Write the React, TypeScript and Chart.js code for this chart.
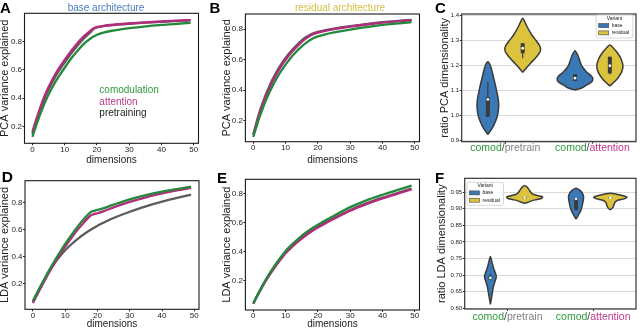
import React, { useEffect, useRef } from 'react';
import { Chart, registerables } from 'chart.js';

Chart.register(...registerables);

const FONT = '"Liberation Sans", Arial, Helvetica, sans-serif';
Chart.defaults.font.family = FONT;
Chart.defaults.color = '#222222';

// ---------------- line panels (A, B, D, E) ----------------
const dims = [0, 1, 2, 3, 4, 5, 6, 7, 8, 9, 10, 12, 14, 16, 18, 19, 20, 22, 25, 30, 35, 40, 45, 49];
const xTickValues = [0, 10, 20, 30, 40, 50];
const lineYTicks = [0.2, 0.4, 0.6, 0.8];
const seriesNames = ['comodulation', 'attention', 'pretraining'];
const seriesColors = ['#24893a', '#b42a7c', '#5c5c5c'];
const seriesTextColors = ['#2f9b40', '#bd3c8a', '#222222'];
const seriesOrder = [0, 1, 2];

// A: PCA, base architecture
const pcaBaseComod = [0.125, 0.195, 0.26, 0.32, 0.375, 0.425, 0.47, 0.51, 0.547, 0.582, 0.615, 0.68, 0.735, 0.785, 0.822, 0.836, 0.848, 0.864, 0.878, 0.895, 0.907, 0.918, 0.926, 0.932];
const pcaBaseAttention = [0.16, 0.235, 0.305, 0.37, 0.428, 0.478, 0.523, 0.565, 0.603, 0.638, 0.67, 0.733, 0.79, 0.838, 0.878, 0.895, 0.903, 0.911, 0.919, 0.928, 0.936, 0.942, 0.948, 0.952];
const pcaBasePretrain = [0.145, 0.22, 0.29, 0.353, 0.41, 0.46, 0.505, 0.547, 0.585, 0.62, 0.652, 0.715, 0.772, 0.823, 0.867, 0.89, 0.9, 0.909, 0.917, 0.926, 0.934, 0.94, 0.946, 0.95];

// B: PCA, residual architecture
const pcaResComod = [0.093, 0.163, 0.228, 0.285, 0.338, 0.386, 0.43, 0.469, 0.505, 0.538, 0.568, 0.622, 0.668, 0.706, 0.735, 0.745, 0.753, 0.765, 0.779, 0.798, 0.814, 0.828, 0.839, 0.846];
const pcaResAttention = [0.105, 0.18, 0.25, 0.31, 0.365, 0.415, 0.46, 0.5, 0.537, 0.57, 0.6, 0.652, 0.697, 0.735, 0.762, 0.771, 0.778, 0.788, 0.8, 0.817, 0.831, 0.843, 0.853, 0.859];
const pcaResPretrain = [0.11, 0.19, 0.262, 0.323, 0.378, 0.428, 0.473, 0.513, 0.55, 0.583, 0.612, 0.663, 0.707, 0.744, 0.769, 0.777, 0.783, 0.792, 0.804, 0.82, 0.834, 0.846, 0.855, 0.861];

// D: LDA, base architecture
const ldaBaseComod = [0.075, 0.122, 0.168, 0.213, 0.257, 0.3, 0.341, 0.381, 0.42, 0.458, 0.494, 0.563, 0.627, 0.683, 0.73, 0.737, 0.744, 0.758, 0.783, 0.822, 0.853, 0.878, 0.899, 0.915];
const ldaBaseAttention = [0.06, 0.106, 0.152, 0.197, 0.241, 0.284, 0.325, 0.365, 0.403, 0.44, 0.475, 0.541, 0.603, 0.658, 0.705, 0.713, 0.72, 0.736, 0.763, 0.803, 0.837, 0.865, 0.889, 0.906];
const ldaBasePretrain = [0.07, 0.118, 0.164, 0.208, 0.25, 0.29, 0.328, 0.362, 0.393, 0.422, 0.448, 0.494, 0.534, 0.569, 0.6, 0.614, 0.628, 0.652, 0.685, 0.731, 0.77, 0.805, 0.834, 0.857];

// E: LDA, residual architecture
const ldaResComod = [0.045, 0.09, 0.133, 0.174, 0.213, 0.25, 0.284, 0.316, 0.347, 0.376, 0.405, 0.45, 0.49, 0.527, 0.558, 0.571, 0.584, 0.61, 0.646, 0.705, 0.752, 0.79, 0.825, 0.853];
const ldaResAttention = [0.045, 0.087, 0.128, 0.167, 0.204, 0.239, 0.272, 0.303, 0.333, 0.362, 0.389, 0.433, 0.472, 0.507, 0.538, 0.552, 0.565, 0.59, 0.625, 0.681, 0.726, 0.765, 0.8, 0.826];
const ldaResPretrain = [0.045, 0.089, 0.131, 0.171, 0.209, 0.244, 0.278, 0.31, 0.34, 0.369, 0.396, 0.44, 0.479, 0.514, 0.545, 0.559, 0.572, 0.596, 0.631, 0.686, 0.731, 0.77, 0.805, 0.832];

// ---------------- violin panels (C, F) ----------------
const categoryParts = [['comod', '/', 'pretrain'], ['comod', '/', 'attention']];
const categoryPartColors = [['#2e9a3c', '#444444', '#808080'], ['#2e9a3c', '#444444', '#c2388c']];
const variants = ['base', 'residual'];
const variantColors = ['#3a78b6', '#dbc33d'];
const legendTitle = 'Variant';
const hueOffsets = [-0.2, 0.2];

// C: ratio PCA dimensionality (violin value grid + half widths), order: base/pretrain, residual/pretrain, base/attention, residual/attention
const pcaTicks = [0.9, 1.0, 1.1, 1.2, 1.3, 1.4];
const pcaV1y = [0.925, 0.95, 0.975, 1.0, 1.025, 1.05, 1.075, 1.1, 1.125, 1.15, 1.175, 1.2, 1.216];
const pcaV1w = [0, 0.05, 0.085, 0.11, 0.122, 0.124, 0.115, 0.1, 0.085, 0.067, 0.05, 0.03, 0];
const pcaV2y = [1.174, 1.19, 1.21, 1.23, 1.25, 1.265, 1.28, 1.3, 1.32, 1.34, 1.36, 1.375, 1.39];
const pcaV2w = [0, 0.04, 0.09, 0.145, 0.19, 0.205, 0.195, 0.155, 0.11, 0.075, 0.045, 0.025, 0];
const pcaV3y = [1.103, 1.11, 1.123, 1.135, 1.15, 1.16, 1.17, 1.18, 1.19, 1.205, 1.223, 1.24, 1.26];
const pcaV3w = [0, 0.07, 0.134, 0.19, 0.205, 0.185, 0.15, 0.12, 0.096, 0.07, 0.052, 0.035, 0];
const pcaV4y = [1.119, 1.135, 1.15, 1.165, 1.18, 1.196, 1.21, 1.23, 1.25, 1.265, 1.283];
const pcaV4w = [0, 0.05, 0.09, 0.12, 0.14, 0.15, 0.145, 0.125, 0.09, 0.055, 0];
// [whisker low, q1, median, q3, whisker high]
const pcaBoxes = [
  [0.996, 0.996, 1.065, 1.074, 1.136],
  [1.23, 1.25, 1.27, 1.29, 1.29],
  [1.139, 1.139, 1.15, 1.166, 1.166],
  [1.165, 1.17, 1.2, 1.236, 1.236],
];

// F: ratio LDA dimensionality
const ldaTicks = [0.6, 0.65, 0.7, 0.75, 0.8, 0.85, 0.9, 0.95];
const ldaV1y = [0.612, 0.63, 0.65, 0.665, 0.68, 0.695, 0.705, 0.72, 0.74, 0.756];
const ldaV1w = [0, 0.012, 0.025, 0.035, 0.052, 0.069, 0.06, 0.038, 0.018, 0];
const ldaV2y = [0.917, 0.92, 0.924, 0.928, 0.932, 0.936, 0.94, 0.945, 0.952, 0.96, 0.966, 0.97];
const ldaV2w = [0, 0.04, 0.08, 0.14, 0.2, 0.21, 0.15, 0.09, 0.065, 0.045, 0.025, 0];
const ldaV3y = [0.869, 0.875, 0.885, 0.895, 0.905, 0.92, 0.935, 0.945, 0.955, 0.962];
const ldaV3w = [0, 0.015, 0.035, 0.055, 0.068, 0.08, 0.088, 0.078, 0.05, 0];
const ldaV4y = [0.897, 0.902, 0.91, 0.918, 0.925, 0.93, 0.934, 0.938, 0.943, 0.947];
const ldaV4w = [0, 0.025, 0.04, 0.05, 0.08, 0.16, 0.195, 0.17, 0.09, 0];
const ldaBoxes = [
  [0.685, 0.688, 0.692, 0.698, 0.705],
  [0.93, 0.932, 0.934, 0.936, 0.938],
  [0.895, 0.897, 0.93, 0.934, 0.934],
  [0.93, 0.932, 0.933, 0.935, 0.936],
];

// ---------------- plugins ----------------
function makeFrame(color: string, width: number) {
  return {
    id: 'frame',
    afterDraw(chart: any) {
      const { ctx, chartArea: a } = chart;
      ctx.save();
      ctx.strokeStyle = color;
      ctx.lineWidth = width;
      ctx.strokeRect(a.left, a.top, a.right - a.left, a.bottom - a.top);
      ctx.restore();
    },
  };
}

function makeTextLegend(fx: number, fy: number, gap: number) {
  return {
    id: 'textLegend',
    afterDraw(chart: any) {
      const { ctx, chartArea: a } = chart;
      ctx.save();
      ctx.font = `10px ${FONT}`;
      ctx.textAlign = 'left';
      ctx.textBaseline = 'middle';
      seriesNames.forEach((n, i) => {
        ctx.fillStyle = seriesTextColors[i];
        ctx.fillText(n, a.left + fx * (a.right - a.left), a.top + fy * (a.bottom - a.top) + i * gap);
      });
      ctx.restore();
    },
  };
}

function makeVariantLegend(side: 'left' | 'right', ix: number, iy: number) {
  return {
    id: 'variantLegend',
    afterDraw(chart: any) {
      const { ctx, chartArea: a } = chart;
      const w = 36.5;
      const h = 23;
      const x = side === 'right' ? a.right - ix - w : a.left + ix;
      const y = a.top + iy;
      ctx.save();
      ctx.fillStyle = 'rgba(255,255,255,0.85)';
      ctx.strokeStyle = '#cfcfcf';
      ctx.lineWidth = 0.8;
      ctx.beginPath();
      (ctx as any).roundRect(x, y, w, h, 1.5);
      ctx.fill();
      ctx.stroke();
      ctx.font = `5px ${FONT}`;
      ctx.fillStyle = '#222';
      ctx.textAlign = 'center';
      ctx.textBaseline = 'middle';
      ctx.fillText(legendTitle, x + w / 2, y + 3.8);
      variants.forEach((v, i) => {
        const cy = y + 10.6 + i * 7.3;
        ctx.fillStyle = variantColors[i];
        ctx.fillRect(x + 2.5, cy - 2, 10, 4);
        ctx.strokeStyle = '#444';
        ctx.lineWidth = 0.6;
        ctx.strokeRect(x + 2.5, cy - 2, 10, 4);
        ctx.fillStyle = '#222';
        ctx.textAlign = 'left';
        ctx.fillText(v, x + 15.5, cy);
      });
      ctx.restore();
    },
  };
}

function makeCategoryLabels(offset: number, size: number) {
  return {
    id: 'categoryLabels',
    afterDraw(chart: any) {
      const { ctx, chartArea: a } = chart;
      const xs = chart.scales.x;
      ctx.save();
      ctx.font = `${size}px ${FONT}`;
      ctx.textBaseline = 'middle';
      ctx.textAlign = 'left';
      categoryParts.forEach((parts, ci) => {
        const total = parts.reduce((s, p) => s + ctx.measureText(p).width, 0);
        let x = xs.getPixelForValue(ci) - total / 2;
        parts.forEach((p, pi) => {
          ctx.fillStyle = categoryPartColors[ci][pi];
          ctx.fillText(p, x, a.bottom + offset);
          x += ctx.measureText(p).width;
        });
      });
      ctx.restore();
    },
  };
}

// ---------------- config builders ----------------
type LineSpec = {
  yW: number; padTop: number; padRight: number; xH: number;
  yMin: number; yMax: number; yTitle: string; series: number[][]; legend?: boolean;
};

function lineConfig(s: LineSpec): any {
  const plugins: any[] = [makeFrame('#1a1a1a', 1.1)];
  if (s.legend) plugins.push(makeTextLegend(0.43, 0.595, 11.3));
  return {
    type: 'line',
    data: {
      datasets: seriesNames.map((name, i) => ({
        label: name,
        data: dims.map((d, j) => ({ x: d, y: s.series[i][j] })),
        borderColor: seriesColors[i],
        backgroundColor: seriesColors[i],
        borderWidth: 2.3,
        pointRadius: 0,
        cubicInterpolationMode: 'monotone',
        fill: false,
        order: seriesOrder[i],
      })),
    },
    options: {
      responsive: false,
      animation: false,
      events: [],
      layout: { padding: { left: 0, top: s.padTop, right: s.padRight, bottom: 0 } },
      plugins: { legend: { display: false }, tooltip: { enabled: false } },
      scales: {
        x: {
          type: 'linear',
          position: 'bottom',
          min: -2.45,
          max: 51.45,
          afterFit: (sc: any) => { sc.height = s.xH; },
          afterBuildTicks: (sc: any) => { sc.ticks = xTickValues.map((v) => ({ value: v })); },
          grid: { display: true, drawOnChartArea: false, drawTicks: true, tickLength: 2, color: '#222', tickColor: '#222' },
          border: { display: false },
          ticks: { font: { size: 8, lineHeight: 1 }, color: '#222', padding: 0, maxRotation: 0, autoSkip: false, callback: (v: any) => String(v) },
          title: { display: true, text: 'dimensions', font: { size: 10, lineHeight: 1.2 }, color: '#222', padding: 0 },
        },
        y: {
          type: 'linear',
          position: 'left',
          min: s.yMin,
          max: s.yMax,
          afterFit: (sc: any) => { sc.width = s.yW; },
          afterBuildTicks: (sc: any) => { sc.ticks = lineYTicks.map((v) => ({ value: v })); },
          grid: { display: true, drawOnChartArea: false, drawTicks: true, tickLength: 2, color: '#222', tickColor: '#222' },
          border: { display: false },
          ticks: { font: { size: 8, lineHeight: 1 }, color: '#222', padding: 0.5, autoSkip: false, callback: (v: any) => Number(v).toFixed(1) },
          title: { display: true, text: s.yTitle, font: { size: 11, lineHeight: 1 }, color: '#222', padding: 0 },
        },
      },
    },
    plugins,
  };
}

function outline(c: number, ys: number[], ws: number[]) {
  const pts: { x: number; y: number }[] = [];
  for (let i = 0; i < ys.length; i++) pts.push({ x: c - ws[i], y: ys[i] });
  for (let i = ys.length - 2; i >= 0; i--) pts.push({ x: c + ws[i], y: ys[i] });
  return pts;
}

type ViolinSpec = {
  yW: number; padTop: number; padRight: number; xH: number;
  yMin: number; yMax: number; yTitle: string; ticks: number[]; decimals: number;
  shapes: number[][][]; boxes: number[][];
  legendSide: 'left' | 'right'; legendX: number; legendY: number; labelOffset: number;
};

function violinConfig(s: ViolinSpec): any {
  const edge = '#3b3b3b';
  const datasets: any[] = [];
  s.shapes.forEach(([ys, ws], k) => {
    const cat = Math.floor(k / 2);
    const hue = k % 2;
    const c = cat + hueOffsets[hue];
    datasets.push({
      data: outline(c, ys, ws), showLine: true, fill: 'shape',
      backgroundColor: variantColors[hue], borderColor: edge, borderWidth: 1.5,
      pointRadius: 0, tension: 0.25, borderJoinStyle: 'round', order: 3,
    });
    const [lo, q1, med, q3, hi] = s.boxes[k];
    datasets.push({ data: [{ x: c, y: lo }, { x: c, y: hi }], showLine: true, borderColor: edge, borderWidth: 1.2, pointRadius: 0, order: 2 });
    datasets.push({ data: [{ x: c, y: q1 }, { x: c, y: q3 }], showLine: true, borderColor: edge, borderWidth: 4, borderCapStyle: 'butt', pointRadius: 0, order: 1 });
    datasets.push({ data: [{ x: c, y: med }], showLine: false, pointRadius: 1.4, pointBackgroundColor: '#f4f4f4', pointBorderWidth: 0, order: 0 });
  });
  return {
    type: 'scatter',
    data: { datasets },
    options: {
      responsive: false,
      animation: false,
      events: [],
      layout: { padding: { left: 0, top: s.padTop, right: s.padRight, bottom: 0 } },
      plugins: { legend: { display: false }, tooltip: { enabled: false } },
      scales: {
        x: {
          type: 'linear',
          position: 'bottom',
          min: -0.5,
          max: 1.5,
          afterFit: (sc: any) => { sc.height = s.xH; },
          afterBuildTicks: (sc: any) => { sc.ticks = [0, 1].map((v) => ({ value: v })); },
          grid: { display: true, drawOnChartArea: false, drawTicks: true, tickLength: 2, color: '#333', tickColor: '#333' },
          border: { display: false },
          ticks: { font: { size: 6 }, padding: 0, callback: () => '' },
        },
        y: {
          type: 'linear',
          position: 'left',
          min: s.yMin,
          max: s.yMax,
          afterFit: (sc: any) => { sc.width = s.yW; },
          afterBuildTicks: (sc: any) => { sc.ticks = s.ticks.map((v) => ({ value: v })); },
          grid: { display: true, drawOnChartArea: true, drawTicks: true, tickLength: 2, color: '#d9d9d9', tickColor: '#333', lineWidth: 1 },
          border: { display: false },
          ticks: { font: { size: 6, lineHeight: 1 }, color: '#222', padding: 0.5, autoSkip: false, callback: (v: any) => Number(v).toFixed(s.decimals) },
          title: { display: true, text: s.yTitle, font: { size: 11, lineHeight: 1 }, color: '#222', padding: 0 },
        },
      },
    },
    plugins: [makeFrame('#333333', 1.2), makeVariantLegend(s.legendSide, s.legendX, s.legendY), makeCategoryLabels(s.labelOffset, 10.5)],
  };
}

// ---------------- components ----------------
function ChartCanvas(props: { left: number; top: number; width: number; height: number; make: () => any }) {
  const ref = useRef<HTMLCanvasElement>(null);
  useEffect(() => {
    const chart = new Chart(ref.current as HTMLCanvasElement, props.make());
    return () => chart.destroy();
  }, []);
  return (
    <canvas
      ref={ref}
      width={props.width}
      height={props.height}
      style={{ position: 'absolute', left: props.left, top: props.top, width: props.width, height: props.height }}
    />
  );
}

function Txt(props: { x: number; baseline: number; size: number; bold?: boolean; color: string; center?: boolean; children: any }) {
  const style: any = {
    position: 'absolute',
    top: props.baseline - 0.8465 * props.size,
    left: props.x,
    fontSize: props.size,
    lineHeight: `${props.size}px`,
    fontWeight: props.bold ? 700 : 400,
    color: props.color,
    whiteSpace: 'nowrap',
    fontFamily: FONT,
  };
  if (props.center) style.transform = 'translateX(-50%)';
  return <div style={style}>{props.children}</div>;
}

export default function App() {
  return (
    <div style={{ position: 'fixed', left: 0, top: 0, width: 640, height: 328, background: '#ffffff', overflow: 'hidden' }}>
      <ChartCanvas left={-1} top={0} width={207} height={166} make={() => lineConfig({
        yW: 25.5, padTop: 13.3, padRight: 7.5, xH: 22.7, yMin: 0.08, yMax: 1.0,
        yTitle: 'PCA variance explained', series: [pcaBaseComod, pcaBaseAttention, pcaBasePretrain], legend: true,
      })} />
      <ChartCanvas left={221} top={0} width={206} height={166} make={() => lineConfig({
        yW: 24.4, padTop: 14, padRight: 7.5, xH: 24.3, yMin: 0.062, yMax: 0.9,
        yTitle: 'PCA variance explained', series: [pcaResComod, pcaResAttention, pcaResPretrain],
      })} />
      <ChartCanvas left={439} top={0} width={201} height={160} make={() => violinConfig({
        yW: 22.7, padTop: 14, padRight: 4, xH: 18.3, yMin: 0.896, yMax: 1.407,
        yTitle: 'ratio PCA dimensionality', ticks: pcaTicks, decimals: 1,
        shapes: [[pcaV1y, pcaV1w], [pcaV2y, pcaV2w], [pcaV3y, pcaV3w], [pcaV4y, pcaV4w]], boxes: pcaBoxes,
        legendSide: 'right', legendX: 3.3, legendY: 1, labelOffset: 6.3,
      })} />
      <ChartCanvas left={-1} top={163} width={207} height={167} make={() => lineConfig({
        yW: 26, padTop: 17.7, padRight: 7, xH: 20.7, yMin: 0.014, yMax: 0.959,
        yTitle: 'LDA variance explained', series: [ldaBaseComod, ldaBaseAttention, ldaBasePretrain],
      })} />
      <ChartCanvas left={221} top={163} width={206} height={167} make={() => lineConfig({
        yW: 24.4, padTop: 16.3, padRight: 7.5, xH: 20, yMin: 0.0, yMax: 0.896,
        yTitle: 'LDA variance explained', series: [ldaResComod, ldaResAttention, ldaResPretrain],
      })} />
      <ChartCanvas left={436} top={163} width={204} height={165} make={() => violinConfig({
        yW: 28.7, padTop: 15.3, padRight: 2, xH: 19, yMin: 0.598, yMax: 0.992,
        yTitle: 'ratio LDA dimensionality', ticks: ldaTicks, decimals: 2,
        shapes: [[ldaV1y, ldaV1w], [ldaV2y, ldaV2w], [ldaV3y, ldaV3w], [ldaV4y, ldaV4w]], boxes: ldaBoxes,
        legendSide: 'left', legendX: 2.3, legendY: 4, labelOffset: 7.7,
      })} />

      <Txt x={106} baseline={11} size={10} color="#4a7ebf" center>base architecture</Txt>
      <Txt x={340} baseline={11} size={10} color="#d5c042" center>residual architecture</Txt>

      <Txt x={0} baseline={12.5} size={15} bold color="#000">A</Txt>
      <Txt x={209.5} baseline={13} size={15} bold color="#000">B</Txt>
      <Txt x={435} baseline={12.5} size={15} bold color="#000">C</Txt>
      <Txt x={1.7} baseline={181.7} size={15.5} bold color="#000">D</Txt>
      <Txt x={217} baseline={182.5} size={15} bold color="#000">E</Txt>
      <Txt x={435} baseline={182.5} size={15} bold color="#000">F</Txt>
    </div>
  );
}
